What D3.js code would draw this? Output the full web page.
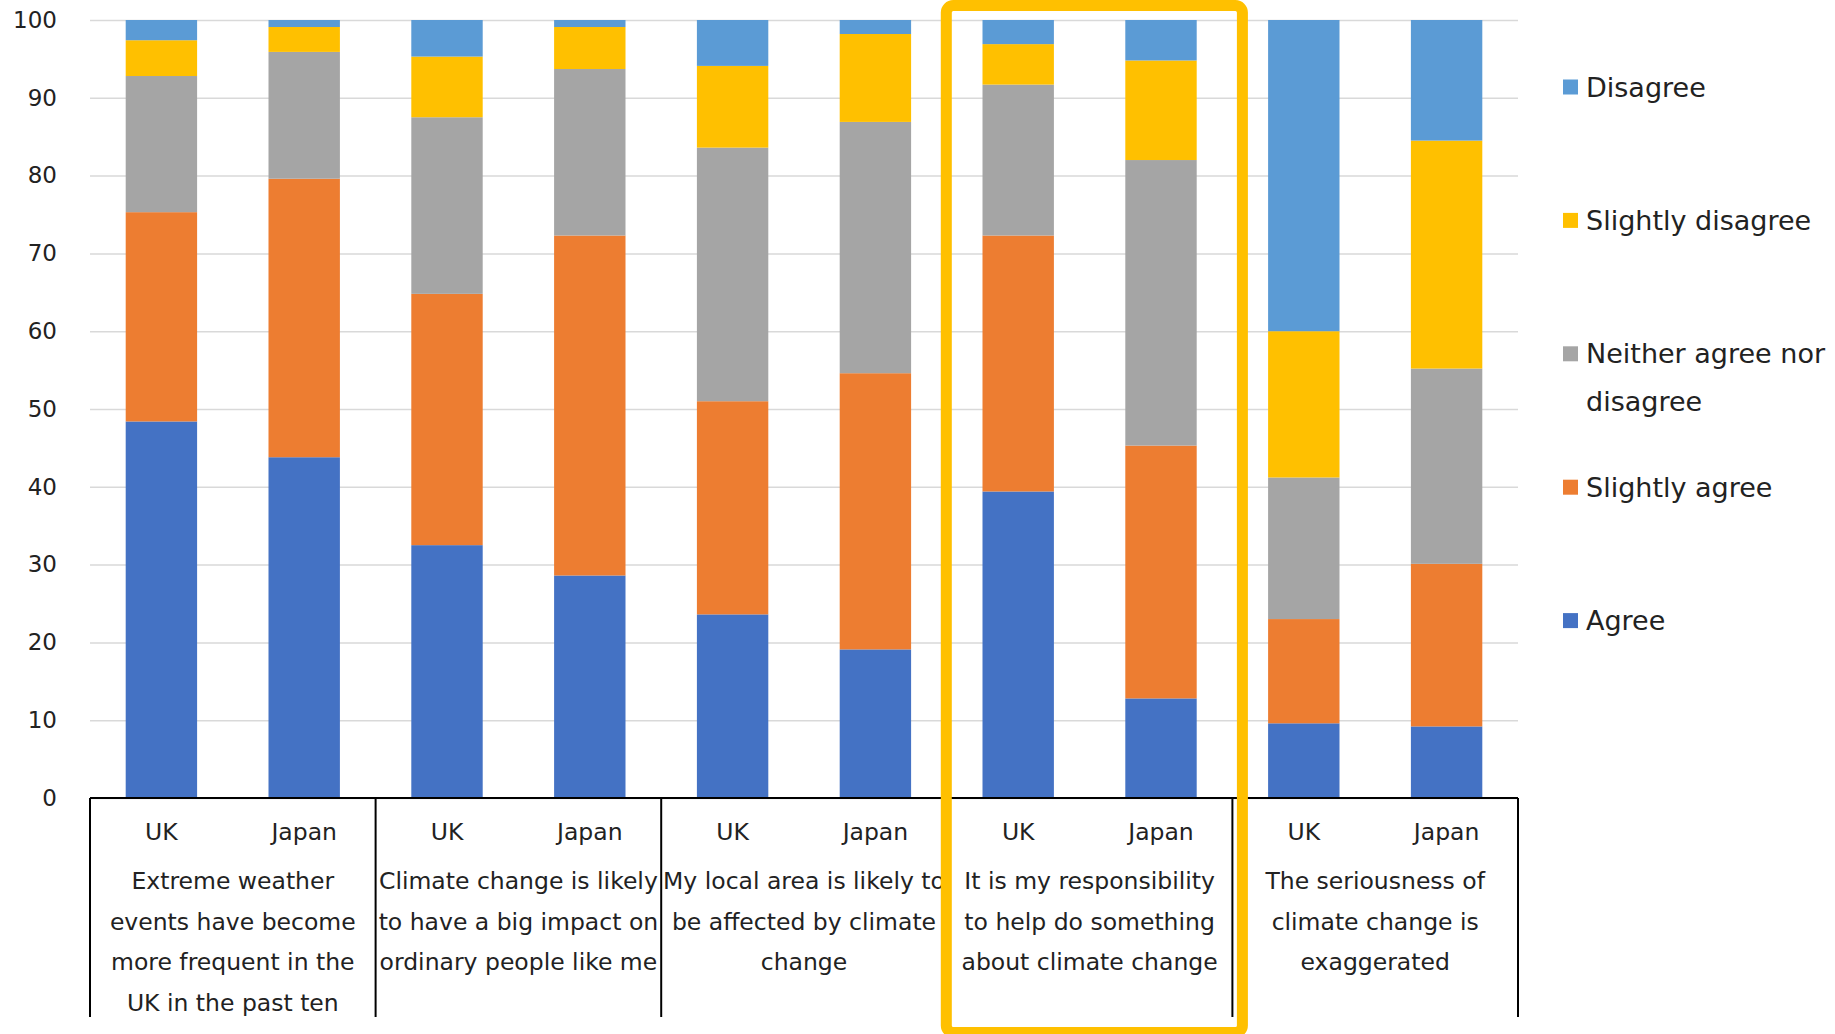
<!DOCTYPE html>
<html>
<head>
<meta charset="utf-8">
<script src="https://cdn.jsdelivr.net/npm/d3@7"></script>
<style>
  html, body { margin: 0; padding: 0; background: #fff; }
  svg { display: block; }
  text { font-family: "DejaVu Sans", Verdana, sans-serif; fill: #222; }
</style>
</head>
<body>
<svg id="chart" width="1835" height="1034"></svg>
<script>
// Survey statements (wrapped label lines), one group per statement
const statements = [
  ["Extreme weather", "events have become", "more frequent in the", "UK in the past ten"],
  ["Climate change is likely", "to have a big impact on", "ordinary people like me"],
  ["My local area is likely to", "be affected by climate", "change"],
  ["It is my responsibility", "to help do something", "about climate change"],
  ["The seriousness of", "climate change is", "exaggerated"]
];
const countries = ["UK", "Japan"];

// Response shares (%) per bar, ordered statement by statement, UK then Japan
const agree            = [48.4, 43.8, 32.5, 28.6, 23.6, 19.1, 39.4, 12.8,  9.6,  9.2];
const slightlyAgree    = [26.9, 35.8, 32.3, 43.7, 27.4, 35.5, 32.9, 32.5, 13.4, 20.9];
const neither          = [17.5, 16.3, 22.7, 21.4, 32.6, 32.3, 19.4, 36.7, 18.2, 25.1];
const slightlyDisagree = [ 4.6,  3.2,  7.8,  5.4, 10.5, 11.3,  5.2, 12.8, 18.8, 29.3];
const disagree         = [ 2.6,  0.9,  4.7,  0.9,  5.9,  1.8,  3.1,  5.2, 40.0, 15.5];

const seriesNames  = ["Agree", "Slightly agree", "Neither agree nor disagree", "Slightly disagree", "Disagree"];
const seriesValues = [agree, slightlyAgree, neither, slightlyDisagree, disagree];
const seriesColors = ["#4472C4", "#ED7D31", "#A5A5A5", "#FFC000", "#5B9BD5"];
const yTicks = [0, 10, 20, 30, 40, 50, 60, 70, 80, 90, 100];

// Highlighted statement
const highlightIndex = 3;

const svg = d3.select("#chart");
const plotLeft = 90, plotRight = 1518, plotTop = 20, plotBottom = 798, tableBottom = 1017;

// Build rows for stacking
const rows = [];
statements.forEach((s, gi) => {
  countries.forEach((c, ci) => {
    const idx = gi * countries.length + ci;
    const row = { key: gi + "-" + c, group: gi, country: c };
    seriesNames.forEach((n, si) => { row[n] = seriesValues[si][idx]; });
    rows.push(row);
  });
});

const x = d3.scaleBand().domain(rows.map(d => d.key)).range([plotLeft, plotRight])
  .paddingInner(0.5).paddingOuter(0.25);
const xGroup = d3.scaleBand().domain(d3.range(statements.length)).range([plotLeft, plotRight]).padding(0);
const y = d3.scaleLinear().domain([0, 100]).range([plotBottom, plotTop]);
const color = d3.scaleOrdinal().domain(seriesNames).range(seriesColors);

// Gridlines and y tick labels
const yAxis = d3.axisLeft(y).tickValues(yTicks).tickSize(-(plotRight - plotLeft)).tickPadding(33);
const gy = svg.append("g").attr("transform", `translate(${plotLeft},0)`).call(yAxis);
gy.select(".domain").remove();
gy.selectAll(".tick line").attr("stroke", "#D9D9D9").attr("stroke-width", 1.5);
gy.selectAll(".tick text").attr("font-size", 23).attr("fill", "#222")
  .attr("font-family", "DejaVu Sans, Verdana, sans-serif");

// Stacked bars
const stacked = d3.stack().keys(seriesNames)(rows);
svg.append("g").selectAll("g").data(stacked).join("g")
  .attr("fill", d => color(d.key))
  .selectAll("rect").data(d => d).join("rect")
  .attr("x", d => x(d.data.key))
  .attr("width", x.bandwidth())
  .attr("y", d => y(d[1]))
  .attr("height", d => y(d[0]) - y(d[1]));

// Category table under the axis
const table = svg.append("g");
const defs = svg.append("defs");
statements.forEach((lines, gi) => {
  defs.append("clipPath").attr("id", "cell" + gi)
    .append("rect")
    .attr("x", xGroup(gi)).attr("y", plotBottom)
    .attr("width", xGroup.bandwidth()).attr("height", tableBottom - plotBottom);
  const cell = table.append("g").attr("clip-path", `url(#cell${gi})`);
  countries.forEach(c => {
    cell.append("text")
      .attr("x", x(gi + "-" + c) + x.bandwidth() / 2)
      .attr("y", 832)
      .attr("text-anchor", "middle").attr("dominant-baseline", "central")
      .attr("font-size", 23.5)
      .text(c);
  });
  lines.forEach((ln, li) => {
    cell.append("text")
      .attr("x", xGroup(gi) + xGroup.bandwidth() / 2)
      .attr("y", 881 + li * 40.6)
      .attr("text-anchor", "middle").attr("dominant-baseline", "central")
      .attr("font-size", 23.5)
      .text(ln);
  });
});

// Table borders
const boundaries = d3.range(statements.length + 1).map(i => plotLeft + i * xGroup.step());
table.selectAll("line.v").data(boundaries).join("line")
  .attr("x1", d => d).attr("x2", d => d)
  .attr("y1", plotBottom).attr("y2", tableBottom)
  .attr("stroke", "#000").attr("stroke-width", 2);
table.append("line")
  .attr("x1", plotLeft).attr("x2", plotRight).attr("y1", plotBottom).attr("y2", plotBottom)
  .attr("stroke", "#000").attr("stroke-width", 2);

// Highlight frame around one statement
const hx0 = xGroup(highlightIndex), hx1 = hx0 + xGroup.bandwidth();
svg.append("rect")
  .attr("x", hx0 - 0.5).attr("y", 5.5)
  .attr("width", hx1 - hx0 + 10.5).attr("height", 1027)
  .attr("rx", 7).attr("ry", 7)
  .attr("fill", "none").attr("stroke", "#FFC000").attr("stroke-width", 11);

// Legend (top to bottom: Disagree ... Agree)
const legend = svg.append("g");
const legendItems = [
  { name: "Disagree", lines: ["Disagree"] },
  { name: "Slightly disagree", lines: ["Slightly disagree"] },
  { name: "Neither agree nor disagree", lines: ["Neither agree nor", "disagree"] },
  { name: "Slightly agree", lines: ["Slightly agree"] },
  { name: "Agree", lines: ["Agree"] }
];
legendItems.forEach((it, i) => {
  const ly = 87 + i * 133.4;
  legend.append("rect")
    .attr("x", 1563).attr("y", ly - 7.5).attr("width", 15).attr("height", 15)
    .attr("fill", color(it.name));
  it.lines.forEach((t, li) => {
    legend.append("text")
      .attr("x", 1586).attr("y", ly + li * 48)
      .attr("dominant-baseline", "central")
      .attr("font-size", 27)
      .attr("fill", "#111")
      .text(t);
  });
});
</script>
</body>
</html>
